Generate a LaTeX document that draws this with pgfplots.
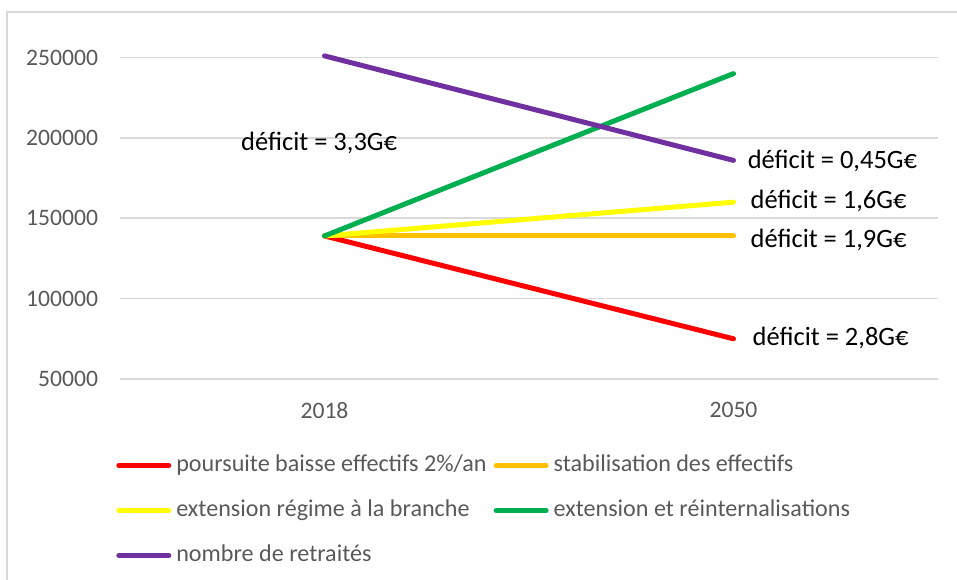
\documentclass[border=0pt]{standalone}
\usepackage{fontspec}
\setmainfont{Carlito}
\usepackage{pgfplots}
\pgfplotsset{compat=1.18}
\definecolor{gridc}{HTML}{D9D9D9}
\definecolor{txt}{HTML}{595959}
\definecolor{cred}{HTML}{FF0000}
\definecolor{corange}{HTML}{FFC000}
\definecolor{cyellow}{HTML}{FFFF00}
\definecolor{cgreen}{HTML}{00B050}
\definecolor{cpurple}{HTML}{7030A0}
\begin{document}
\begin{tikzpicture}
\useasboundingbox (0bp,0bp) rectangle (478.5bp,290bp);
\draw[gridc, line width=0.75bp] (3.5bp,0bp) -- (3.5bp,284bp) -- (478.5bp,284bp);
\begin{axis}[
  at={(60bp,100.5bp)}, anchor=south west,
  scale only axis, width=409bp, height=160.75bp,
  xmin=-0.5, xmax=1.5, ymin=50000, ymax=250000,
  xtick={0,1}, xticklabels={2018,2050},
  ytick={50000,100000,150000,200000,250000},
  yticklabels={50000,100000,150000,200000,250000},
  ymajorgrids, grid style={gridc, line width=0.75bp},
  axis line style={draw=none}, major tick length=0pt,
  scaled y ticks=false,
  tick label style={font=\fontsize{11.85}{14}\selectfont, text=txt},
  yticklabel style={xshift=-7.5bp},
  xticklabel style={yshift=-8bp},
  clip=false,
  legend columns=2,
  legend cell align=left,
  legend image code/.code={\draw[#1, line width=2.5bp, line cap=round] (1.25bp,0bp) -- (26.25bp,0bp);},
  legend style={draw=none, fill=none, at={(rel axis cs:-0.0123,-0.221)}, anchor=north west,
    font=\fontsize{12.1}{14}\selectfont, text=txt,
    nodes={inner sep=0pt, text height=8.5bp, text depth=2.5bp},
    row sep=11.5bp,
    /tikz/every odd column/.append style={column sep=2.5bp},
    /tikz/every even column/.append style={column sep=3.5bp}},
]
\addplot[cred, line width=2.5bp, line cap=round] coordinates {(0,139000) (1,75000)};
\addlegendentry{poursuite baisse effectifs 2\%/an}
\addplot[corange, line width=2.5bp, line cap=round] coordinates {(0,139000) (1,139000)};
\addlegendentry{stabilisation des effectifs}
\addplot[cyellow, line width=2.5bp, line cap=round] coordinates {(0,139000) (1,160000)};
\addlegendentry{extension régime à la branche}
\addplot[cgreen, line width=2.5bp, line cap=round] coordinates {(0,139000) (1,240000)};
\addlegendentry{extension et réinternalisations}
\addplot[cpurple, line width=2.5bp, line cap=round] coordinates {(0,251000) (1,186000)};
\addlegendentry{nombre de retraités}
\node[font=\fontsize{13.3}{16}\selectfont, inner sep=0pt] at (axis cs:-0.013,196800) {déficit = 3,3G€};
\node[font=\fontsize{13.3}{16}\selectfont, inner sep=0pt, anchor=west] at (axis cs:1.034,185600) {déficit = 0,45G€};
\node[font=\fontsize{13.3}{16}\selectfont, inner sep=0pt, anchor=west] at (axis cs:1.041,160700) {déficit = 1,6G€};
\node[font=\fontsize{13.3}{16}\selectfont, inner sep=0pt, anchor=west] at (axis cs:1.041,136500) {déficit = 1,9G€};
\node[font=\fontsize{13.3}{16}\selectfont, inner sep=0pt, anchor=west] at (axis cs:1.046,75500) {déficit = 2,8G€};
\end{axis}
\end{tikzpicture}
\end{document}
